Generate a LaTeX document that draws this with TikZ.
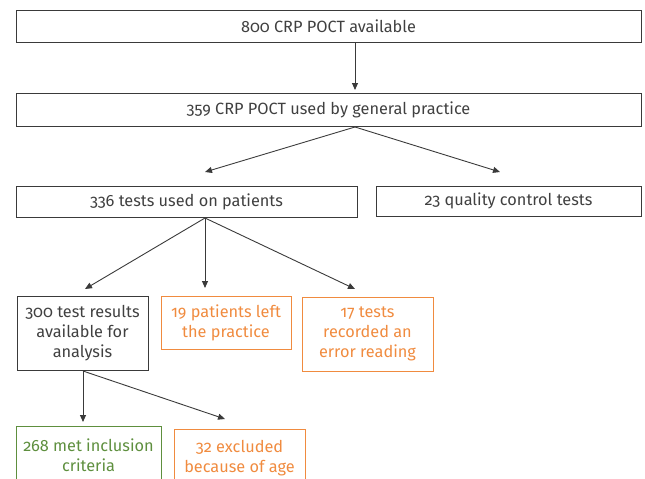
\documentclass[tikz,border=0pt]{standalone}
\usepackage{fontspec}
\setmainfont[Numbers=OldStyle]{Fira Sans}
\usetikzlibrary{arrows.meta}
\definecolor{txtgray}{HTML}{404040}
\definecolor{boxgray}{HTML}{3A3A3A}
\definecolor{orng}{HTML}{F08B3F}
\definecolor{grn}{HTML}{5E8F3E}
\tikzset{
  txtfont/.style={font=\fontsize{16.3}{20}\selectfont},
  box/.style={draw=boxgray, line width=1pt, text=txtgray, align=center, inner sep=0pt, txtfont},
  obox/.style={box, draw=orng, text=orng},
  gbox/.style={box, draw=grn, text=grn},
  arr/.style={draw=boxgray, line width=0.9pt, -{Triangle[length=7pt,width=6pt]}},
}
\begin{document}
\begin{tikzpicture}[x=1pt,y=-1pt]
\useasboundingbox (0,0) rectangle (645,479);
\clip (0,0) rectangle (645,479);
\node[box, minimum width=625, minimum height=32] (a) at (328.5,26) {800 CRP POCT available};
\node[box, minimum width=625, minimum height=33] (b) at (328.5,109.5) {359 CRP POCT used by general practice};
\node[box, minimum width=341, minimum height=31] (c) at (186.5,201.5) {336 tests used on patients};
\node[box, minimum width=265, minimum height=30] (d) at (508.5,201) {23 quality control tests};
\node[box, minimum width=131, minimum height=74] (e) at (82.5,333) {300 test results\\available for\\analysis};
\node[obox, minimum width=130, minimum height=53] (f) at (226,322.5) {19 patients left\\the practice};
\node[obox, minimum width=131, minimum height=74] (g) at (367.5,334) {17 tests\\recorded an\\error reading};
\node[gbox, minimum width=145, minimum height=70, anchor=north] (h) at (88.5,426) {};
\node[obox, minimum width=131, minimum height=70, anchor=north] (i) at (239.5,429) {};
\node[text=grn, align=center, txtfont, inner sep=0pt, anchor=north] (ht) at (h.north) [yshift=-13pt] {268 met inclusion\\criteria};
\node[text=orng, align=center, txtfont, inner sep=0pt, anchor=north] (it) at (i.north) [yshift=-11pt] {32 excluded\\because of age};
\coordinate (bs) at (355,127);
\coordinate (cs) at (205,218);
\coordinate (es) at (83,371);
\draw[arr] (a.south -| bs) -- (355,90);
\draw[arr] (bs) -- (205,172);
\draw[arr] (bs) -- (500,172);
\draw[arr] (cs) -- (85,289);
\draw[arr] (cs) -- (205,288);
\draw[arr] (cs) -- (355,289);
\draw[arr] (es) -- (83,422);
\draw[arr] (es) -- (225,419);
\end{tikzpicture}
\end{document}
